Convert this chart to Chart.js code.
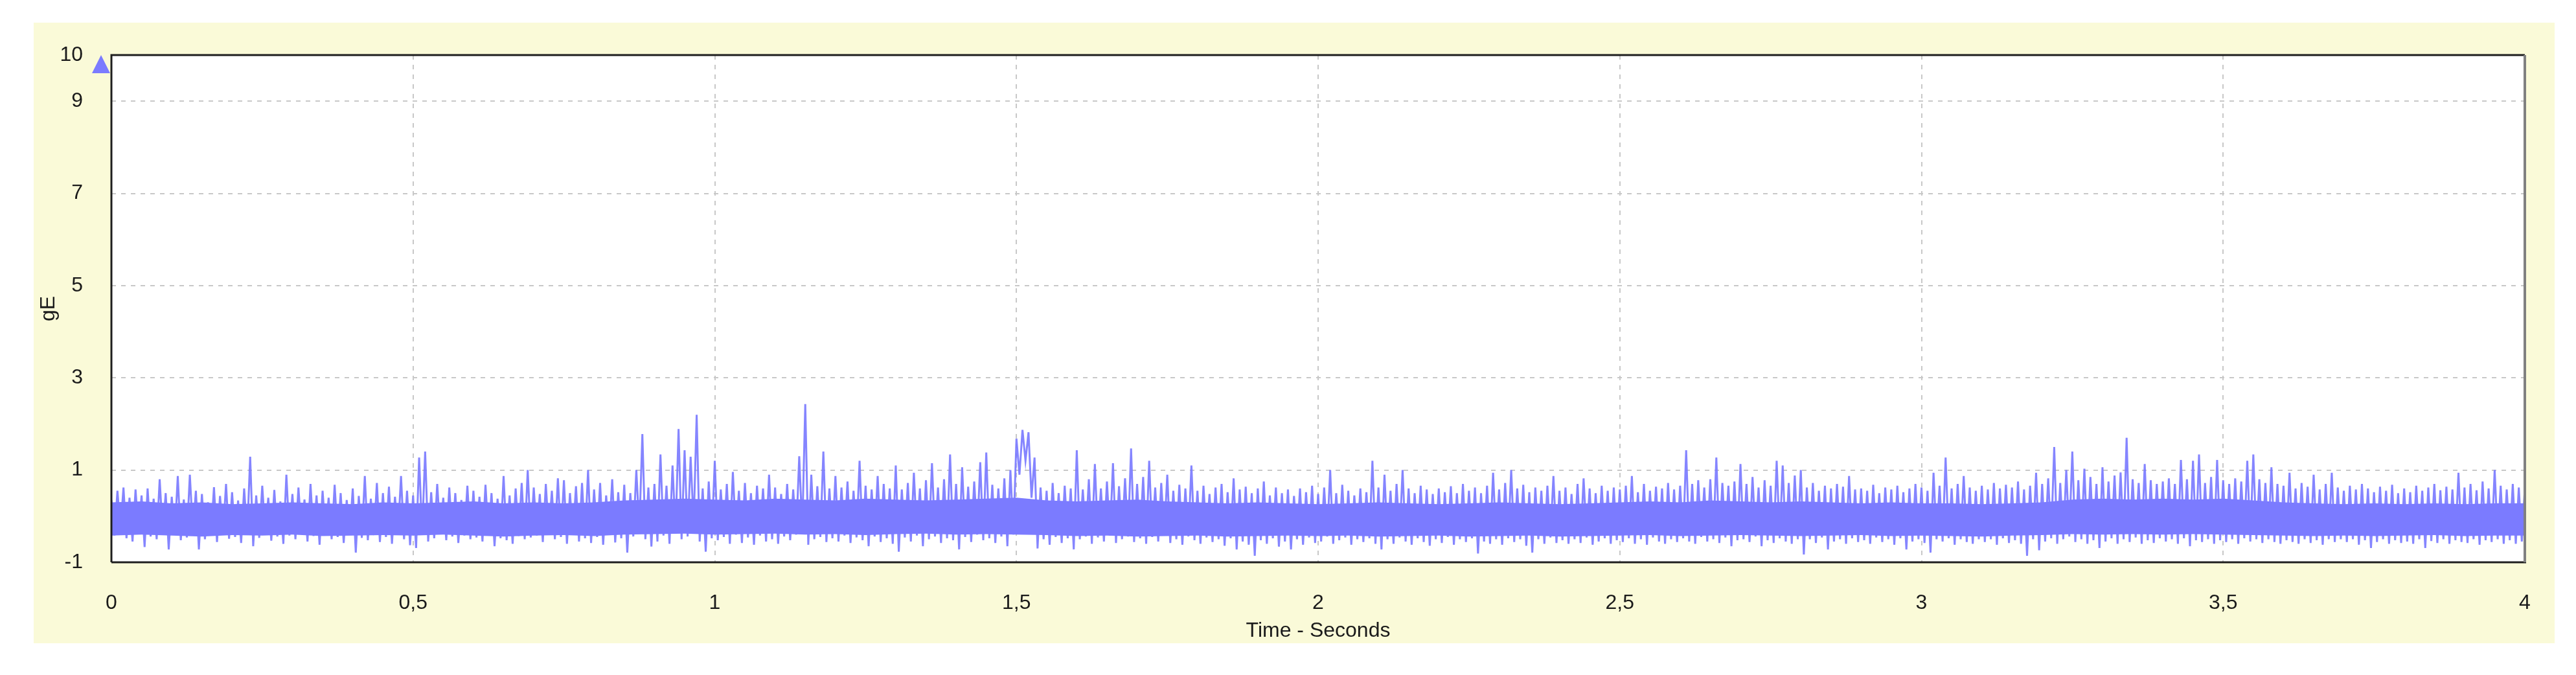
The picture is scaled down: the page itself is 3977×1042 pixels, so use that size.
<!DOCTYPE html>
<html>
<head>
<meta charset="utf-8">
<title>gE - Time</title>
<script src="https://cdn.jsdelivr.net/npm/chart.js@4.4.0/dist/chart.umd.min.js"></script>
<style>
  html, body { margin: 0; padding: 0; background: #ffffff; }
  #wrap { width: 3977px; height: 1042px; }
</style>
</head>
<body>
<div id="wrap"><canvas id="gECanvas" width="3977" height="1042"></canvas></div>
<script>
// Samples per second of the enveloped signal (0.005 s between samples)
const sampleRate = 200;

// gE signal, 0 .. 4 s (one row = 0.1 s)
const signal = [
  0.35,-0.42,0.55,-0.3,0.62,-0.48,0.4,-0.55,0.58,-0.38,0.45,-0.67,0.6,-0.44,0.38,-0.5,0.8,-0.36,0.5,-0.72,
  0.42,-0.4,0.87,-0.52,0.36,-0.46,0.9,-0.33,0.55,-0.72,0.48,-0.5,0.3,-0.41,0.63,-0.56,0.44,-0.37,0.7,-0.49,
  0.52,-0.45,0.34,-0.58,0.6,-0.4,1.29,-0.65,0.45,-0.47,0.66,-0.35,0.4,-0.53,0.57,-0.44,0.32,-0.6,0.9,-0.42,
  0.48,-0.5,0.62,-0.38,0.36,-0.55,0.7,-0.43,0.45,-0.62,0.55,-0.36,0.4,-0.5,0.68,-0.45,0.5,-0.58,0.35,-0.4,
  0.6,-0.79,0.44,-0.47,0.87,-0.52,0.38,-0.41,0.72,-0.56,0.5,-0.45,0.64,-0.6,0.42,-0.38,0.87,-0.5,0.55,-0.63,
  0.45,-0.69,1.27,-0.4,1.4,-0.55,0.52,-0.48,0.7,-0.36,0.4,-0.52,0.62,-0.44,0.5,-0.58,0.35,-0.42,0.66,-0.5,
  0.55,-0.46,0.42,-0.55,0.68,-0.4,0.5,-0.65,0.38,-0.48,0.87,-0.52,0.45,-0.6,0.6,-0.43,0.72,-0.5,1.0,-0.46,
  0.62,-0.42,0.48,-0.56,0.7,-0.38,0.55,-0.5,0.82,-0.45,0.78,-0.6,0.5,-0.4,0.65,-0.55,0.72,-0.48,1.0,-0.58,
  0.58,-0.45,0.72,-0.62,0.45,-0.4,0.8,-0.57,0.52,-0.48,0.68,-0.79,0.5,-0.44,1.0,-0.3,1.78,-0.5,0.62,-0.66,
  0.7,-0.55,1.34,-0.42,0.66,-0.6,1.1,-0.35,1.89,-0.5,1.43,-0.44,1.29,-0.2,2.2,-0.55,0.6,-0.77,0.75,-0.48,
  1.2,-0.52,0.58,-0.45,0.7,-0.6,0.96,-0.4,0.55,-0.58,0.72,-0.46,0.5,-0.62,0.66,-0.42,0.6,-0.55,0.9,-0.5,
  0.62,-0.6,0.48,-0.44,0.7,-0.52,0.58,-0.4,1.3,-0.3,2.43,-0.62,0.9,-0.5,0.65,-0.45,1.4,-0.56,0.6,-0.48,
  0.87,-0.55,0.62,-0.42,0.75,-0.58,0.55,-0.46,1.2,-0.52,0.66,-0.65,0.58,-0.44,0.87,-0.56,0.7,-0.48,0.6,-0.6,
  1.1,-0.77,0.58,-0.46,0.72,-0.55,0.94,-0.42,0.6,-0.65,0.78,-0.5,1.15,-0.44,0.62,-0.58,0.8,-0.48,1.34,-0.52,
  0.7,-0.72,1.06,-0.45,0.64,-0.56,0.75,-0.4,1.17,-0.52,1.38,-0.48,0.68,-0.58,0.6,-0.44,0.82,-0.65,1.0,-0.4,
  1.68,0.9,1.87,1.2,1.82,0.4,1.27,-0.7,0.62,-0.5,0.55,-0.62,0.72,-0.45,0.5,-0.58,0.66,-0.48,0.6,-0.72,
  1.43,-0.5,0.58,-0.44,0.8,-0.6,1.13,-0.46,0.6,-0.55,0.75,-0.42,1.15,-0.58,0.65,-0.5,0.82,-0.44,1.47,-0.56,
  0.7,-0.48,0.85,-0.6,1.2,-0.45,0.62,-0.55,0.72,-0.4,0.9,-0.58,0.55,-0.5,0.68,-0.62,0.6,-0.44,1.1,-0.52,
  0.55,-0.6,0.66,-0.46,0.48,-0.56,0.62,-0.5,0.7,-0.64,0.52,-0.48,0.82,-0.72,0.58,-0.55,0.64,-0.62,0.5,-0.86,
  0.6,-0.52,0.75,-0.6,0.45,-0.48,0.62,-0.66,0.5,-0.55,0.58,-0.72,0.44,-0.5,0.6,-0.62,0.52,-0.46,0.66,-0.58,
  0.48,-0.55,0.62,-0.44,1.0,-0.6,0.5,-0.52,0.68,-0.46,0.55,-0.62,0.45,-0.5,0.6,-0.56,0.52,-0.48,1.2,-0.6,
  0.62,-0.72,0.9,-0.5,0.55,-0.6,0.7,-0.46,1.0,-0.55,0.6,-0.62,0.5,-0.48,0.66,-0.56,0.58,-0.64,0.48,-0.5,
  0.6,-0.58,0.52,-0.45,0.65,-0.62,0.5,-0.5,0.7,-0.56,0.55,-0.48,0.62,-0.81,0.5,-0.55,0.66,-0.6,0.94,-0.5,
  0.58,-0.62,0.72,-0.48,1.0,-0.56,0.6,-0.5,0.68,-0.64,0.52,-0.79,0.62,-0.5,0.55,-0.6,0.66,-0.46,0.87,-0.58,
  0.55,-0.52,0.62,-0.6,0.48,-0.5,0.7,-0.58,0.82,-0.46,0.6,-0.62,0.5,-0.55,0.66,-0.48,0.55,-0.6,0.62,-0.52,
  0.58,-0.56,0.66,-0.48,0.87,-0.6,0.52,-0.5,0.7,-0.62,0.55,-0.46,0.64,-0.55,0.6,-0.6,0.72,-0.5,0.58,-0.56,
  0.66,-0.48,1.43,-0.55,0.7,-0.6,0.78,-0.45,0.62,-0.55,0.8,-0.5,1.27,-0.58,0.72,-0.46,0.66,-0.65,0.75,-0.52,
  1.13,-0.5,0.7,-0.56,0.85,-0.44,0.62,-0.65,0.78,-0.52,0.66,-0.58,1.2,-0.48,1.1,-0.55,0.72,-0.6,0.88,-0.5,
  1.0,-0.83,0.62,-0.5,0.72,-0.58,0.55,-0.46,0.66,-0.72,0.6,-0.55,0.7,-0.5,0.64,-0.6,0.87,-0.48,0.58,-0.56,
  0.6,-0.52,0.55,-0.6,0.68,-0.46,0.5,-0.56,0.62,-0.5,0.58,-0.62,0.66,-0.48,0.52,-0.72,0.6,-0.55,0.7,-0.5,
  0.62,-0.58,0.55,-0.79,0.94,-0.5,0.66,-0.55,1.27,-0.48,0.6,-0.62,0.7,-0.5,0.87,-0.56,0.62,-0.6,0.55,-0.5,
  0.66,-0.56,0.58,-0.5,0.72,-0.62,0.6,-0.48,0.68,-0.58,0.62,-0.52,0.75,-0.6,0.58,-0.86,0.66,-0.5,0.94,-0.74,
  0.7,-0.55,0.82,-0.48,1.5,-0.6,0.72,-0.5,1.0,-0.44,1.4,-0.56,0.78,-0.5,1.03,-0.6,0.85,-0.52,0.7,-0.69,
  1.06,-0.55,0.75,-0.48,0.88,-0.6,0.95,-0.5,1.7,-0.56,0.8,-0.46,0.72,-0.6,1.13,-0.52,0.78,-0.58,0.7,-0.48,
  0.75,-0.55,0.82,-0.5,0.7,-0.6,1.22,-0.48,0.8,-0.65,1.2,-0.52,1.34,-0.56,0.72,-0.5,0.85,-0.6,1.22,-0.52,
  0.78,-0.56,0.7,-0.5,0.82,-0.6,0.75,-0.48,1.2,-0.55,1.34,-0.5,0.8,-0.58,0.72,-0.5,1.06,-0.56,0.7,-0.6,
  0.66,-0.52,0.94,-0.56,0.6,-0.6,0.72,-0.5,0.64,-0.58,0.9,-0.52,0.58,-0.62,0.7,-0.5,0.94,-0.56,0.62,-0.5,
  0.55,-0.56,0.66,-0.5,0.58,-0.62,0.7,-0.52,0.6,-0.69,0.52,-0.56,0.64,-0.5,0.55,-0.6,0.68,-0.52,0.5,-0.58,
  0.6,-0.55,0.52,-0.6,0.66,-0.5,0.55,-0.69,0.62,-0.54,0.7,-0.58,0.56,-0.5,0.64,-0.6,0.58,-0.52,0.94,-0.56,
  0.62,-0.58,0.7,-0.5,0.56,-0.62,0.75,-0.52,0.6,-0.56,1.0,-0.5,0.66,-0.6,0.58,-0.52,0.7,-0.6,0.62,-0.55,
  0.6
];

// Solid core of the band, every 0.05 s
const coreStep = 0.05;
const coreTop = [
  0.3,0.32,0.28,0.3,0.26,0.28,0.3,0.28,0.26,0.3,
  0.28,0.3,0.32,0.28,0.3,0.28,0.3,0.34,0.36,0.38,
  0.36,0.34,0.38,0.36,0.34,0.38,0.36,0.34,0.36,0.38,
  0.4,0.34,0.32,0.34,0.36,0.32,0.3,0.28,0.3,0.28,
  0.26,0.28,0.3,0.28,0.26,0.28,0.3,0.28,0.26,0.28,
  0.3,0.32,0.3,0.34,0.32,0.3,0.32,0.3,0.28,0.3,
  0.28,0.28,0.26,0.28,0.3,0.36,0.38,0.36,0.38,0.36,
  0.38,0.34,0.3,0.28,0.26,0.28,0.26,0.28,0.26,0.28,
  0.28
];
const coreBottom = [
  -0.42,-0.4,-0.42,-0.44,-0.41,-0.42,-0.4,-0.43,-0.42,-0.41,
  -0.42,-0.4,-0.42,-0.44,-0.42,-0.41,-0.43,-0.4,-0.39,-0.38,
  -0.4,-0.39,-0.38,-0.4,-0.39,-0.41,-0.39,-0.38,-0.4,-0.39,
  -0.4,-0.41,-0.43,-0.42,-0.44,-0.43,-0.42,-0.44,-0.43,-0.42,
  -0.43,-0.42,-0.44,-0.43,-0.42,-0.44,-0.43,-0.42,-0.44,-0.43,
  -0.42,-0.41,-0.43,-0.42,-0.41,-0.42,-0.43,-0.42,-0.41,-0.43,
  -0.42,-0.43,-0.44,-0.42,-0.41,-0.39,-0.4,-0.39,-0.4,-0.39,
  -0.4,-0.41,-0.42,-0.43,-0.42,-0.43,-0.42,-0.41,-0.43,-0.42,
  -0.42
];

// Axis ticks
const xTicks = [0, 0.5, 1, 1.5, 2, 2.5, 3, 3.5, 4];
const yTicks = [-1, 1, 3, 5, 7, 9, 10];

const signalPoints = signal.map((v, i) => ({ x: i / sampleRate, y: v }));
const topPoints = coreTop.map((v, i) => ({ x: i * coreStep, y: v }));
const bottomPoints = coreBottom.map((v, i) => ({ x: i * coreStep, y: v }));

const BLUE = "#7b7bff";

// Yellow panel, white plot area, frame and cursor marker
const panelPlugin = {
  id: "panel",
  beforeDraw(chart) {
    const { ctx, chartArea: a, width, height } = chart;
    ctx.save();
    ctx.fillStyle = "#fafad8";
    ctx.fillRect(52, 35, width - 52 - 33, height - 35 - 49);
    ctx.fillStyle = "#ffffff";
    ctx.fillRect(a.left, a.top, a.width, a.height);
    ctx.restore();
  },
  afterDraw(chart) {
    const { ctx, chartArea: a, scales } = chart;
    ctx.save();
    ctx.lineWidth = 3;
    ctx.strokeStyle = "#1e1e1e";
    ctx.beginPath();
    ctx.moveTo(a.left, a.bottom);
    ctx.lineTo(a.left, a.top);
    ctx.lineTo(a.right, a.top);
    ctx.moveTo(a.left, a.bottom);
    ctx.lineTo(a.right + 2, a.bottom);
    ctx.stroke();
    ctx.strokeStyle = "#808080";
    ctx.lineWidth = 4;
    ctx.beginPath();
    ctx.moveTo(a.right, a.top);
    ctx.lineTo(a.right, a.bottom);
    ctx.stroke();

    // cursor triangle at the top of the scale
    const yTop = scales.y.getPixelForValue(10);
    ctx.fillStyle = BLUE;
    ctx.beginPath();
    ctx.moveTo(a.left - 16, yTop);
    ctx.lineTo(a.left - 2, yTop + 28);
    ctx.lineTo(a.left - 30, yTop + 28);
    ctx.closePath();
    ctx.fill();
    ctx.restore();
  },
};

Chart.defaults.font.family = '"Liberation Sans", Arial, sans-serif';
Chart.defaults.font.size = 32;
Chart.defaults.color = "#1a1a1a";

const ctx = document.getElementById("gECanvas").getContext("2d");
const gEChart = new Chart(ctx, {
  type: "line",
  data: {
    datasets: [
      {
        label: "core-bottom",
        data: bottomPoints,
        borderWidth: 0,
        pointRadius: 0,
        fill: false,
      },
      {
        label: "core-top",
        data: topPoints,
        borderWidth: 0,
        pointRadius: 0,
        backgroundColor: BLUE,
        fill: "-1",
      },
      {
        label: "gE",
        data: signalPoints,
        borderColor: "rgba(120, 120, 255, 0.9)",
        borderWidth: 3,
        pointRadius: 0,
        tension: 0,
        fill: false,
      },
    ],
  },
  options: {
    responsive: false,
    animation: false,
    events: [],
    layout: { padding: { left: 52, top: 85, right: 79, bottom: 49 } },
    plugins: {
      legend: { display: false },
      tooltip: { enabled: false },
    },
    scales: {
      x: {
        type: "linear",
        min: 0,
        max: 4,
        afterBuildTicks: (scale) => {
          scale.ticks = xTicks.map((v) => ({ value: v }));
        },
        afterFit: (scale) => {
          scale.height = 125;
        },
        ticks: {
          padding: 44,
          maxRotation: 0,
          callback: (v) => String(v).replace(".", ","),
        },
        grid: {
          color: (c) => (c.tick && (c.tick.value === 0 || c.tick.value === 4) ? "rgba(0,0,0,0)" : "#c8c8c8"),
          lineWidth: 2,
          drawTicks: false,
        },
        border: { display: false, dash: [7, 8] },
        title: {
          display: true,
          text: "Time - Seconds",
          padding: { top: 0, bottom: 0 },
        },
      },
      y: {
        type: "linear",
        min: -1,
        max: 10,
        afterBuildTicks: (scale) => {
          scale.ticks = yTicks.map((v) => ({ value: v }));
        },
        afterFit: (scale) => {
          scale.width = 120;
        },
        ticks: { padding: 44 },
        grid: {
          color: (c) => (c.tick && (c.tick.value === -1 || c.tick.value === 10) ? "rgba(0,0,0,0)" : "#c8c8c8"),
          lineWidth: 2,
          drawTicks: false,
        },
        border: { display: false, dash: [7, 8] },
        title: {
          display: true,
          text: "gE",
          padding: { top: 4, bottom: 0 },
        },
      },
    },
  },
  plugins: [panelPlugin],
});
</script>
</body>
</html>
